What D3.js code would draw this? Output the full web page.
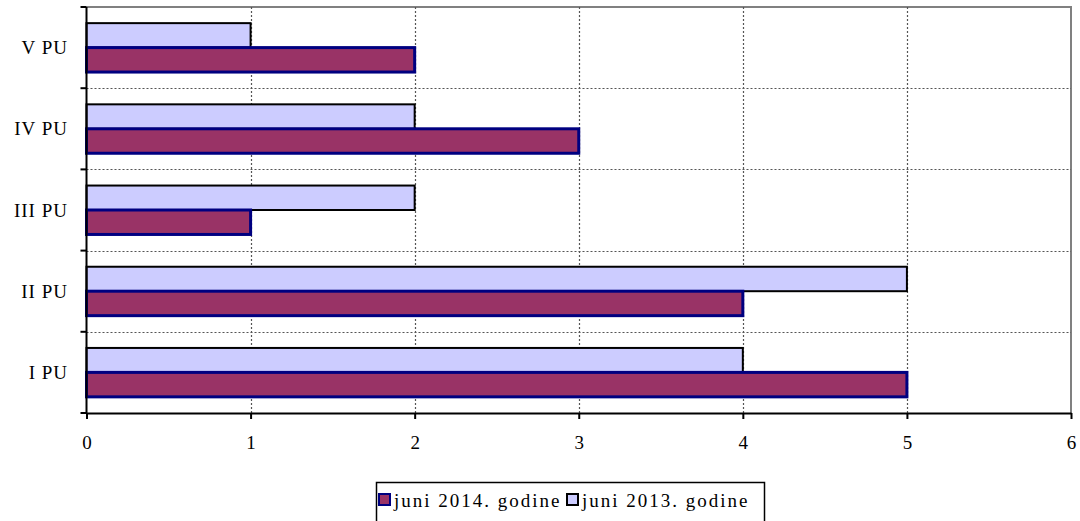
<!DOCTYPE html>
<html>
<head>
<meta charset="utf-8">
<script src="https://cdn.jsdelivr.net/npm/d3@7"></script>
<style>
  body { margin: 0; background: #fff; }
</style>
</head>
<body>
<div id="chart"></div>
<script>
// data
const categories = ["V PU", "IV PU", "III PU", "II PU", "I PU"];
const series = ["juni 2013. godine", "juni 2014. godine"];
const values2013 = [1, 2, 2, 5, 4];
const values2014 = [2, 3, 1, 4, 5];
const xTicks = [0, 1, 2, 3, 4, 5, 6];
const legendOrder = ["juni 2014. godine", "juni 2013. godine"];

const width = 1080, height = 521;
const margin = { top: 7, right: 9, bottom: 108, left: 86.5 };
const serif = '"Liberation Serif"';

const colors = {
  "juni 2013. godine": { fill: "#ccccff", stroke: "#000", sw: 2 },
  "juni 2014. godine": { fill: "#993366", stroke: "#000080", sw: 3 }
};

const svg = d3.select("#chart").append("svg")
  .attr("width", width)
  .attr("height", height);

const x = d3.scaleLinear()
  .domain([0, 6])
  .range([margin.left, width - margin.right]);

const y = d3.scaleBand()
  .domain(categories)
  .range([margin.top, height - margin.bottom]);

const inner = d3.scaleBand()
  .domain(series)
  .range([0, y.bandwidth()])
  .paddingOuter(0.66);

// plot frame (top + right in gray)
svg.append("path")
  .attr("d", `M${x(0)},${margin.top}H${x(6)}V${height - margin.bottom}`)
  .attr("fill", "none")
  .attr("stroke", "#808080")
  .attr("stroke-width", 2);

// grid
const grid = svg.append("g")
  .attr("stroke", "#555")
  .attr("stroke-width", 1.2)
  .attr("stroke-dasharray", "2,2");

grid.selectAll("line.v")
  .data(xTicks.slice(1, -1))
  .join("line")
  .attr("class", "v")
  .attr("x1", d => Math.round(x(d)) + 0.5)
  .attr("x2", d => Math.round(x(d)) + 0.5)
  .attr("y1", margin.top)
  .attr("y2", height - margin.bottom);

grid.selectAll("line.h")
  .data(categories.slice(1))
  .join("line")
  .attr("class", "h")
  .attr("x1", x(0))
  .attr("x2", x(6))
  .attr("y1", d => Math.round(y(d)) + 0.5)
  .attr("y2", d => Math.round(y(d)) + 0.5);

// bars
const rows = categories.map((c, i) => ({
  cat: c,
  "juni 2013. godine": values2013[i],
  "juni 2014. godine": values2014[i]
}));

series.forEach(s => {
  svg.append("g")
    .selectAll("rect")
    .data(rows)
    .join("rect")
    .attr("x", x(0))
    .attr("y", d => y(d.cat) + inner(s))
    .attr("width", d => x(d[s]) - x(0))
    .attr("height", inner.bandwidth())
    .attr("fill", colors[s].fill)
    .attr("stroke", colors[s].stroke)
    .attr("stroke-width", colors[s].sw);
});

// x axis
svg.append("g")
  .attr("transform", `translate(0,${height - margin.bottom})`)
  .call(d3.axisBottom(x).tickValues(xTicks).tickFormat(d3.format("d"))
    .tickSize(6).tickSizeOuter(0).tickPadding(17))
  .call(g => g.selectAll("line, path").attr("stroke", "#000").attr("stroke-width", 2))
  .call(g => g.selectAll("text")
    .style("font-family", serif)
    .style("font-size", "19px")
    .attr("fill", "#000"));

// y axis: ticks at the band edges
const yEdges = categories.map(c => y(c)).concat([height - margin.bottom]);
const yAxis = svg.append("g");
yAxis.append("line")
  .attr("x1", x(0)).attr("x2", x(0))
  .attr("y1", margin.top).attr("y2", height - margin.bottom)
  .attr("stroke", "#000").attr("stroke-width", 2);
yAxis.selectAll("line.tick")
  .data(yEdges)
  .join("line")
  .attr("class", "tick")
  .attr("x1", x(0) - 6).attr("x2", x(0))
  .attr("y1", d => d).attr("y2", d => d)
  .attr("stroke", "#000").attr("stroke-width", 2);
yAxis.selectAll("text")
  .data(categories)
  .join("text")
  .attr("x", 68)
  .attr("y", d => y(d) + y.bandwidth() / 2)
  .attr("dy", "0.35em")
  .attr("text-anchor", "end")
  .style("font-family", serif)
  .style("font-size", "19px")
  .attr("letter-spacing", 1)
  .text(d => d);

// legend
const legend = svg.append("g").attr("transform", "translate(376,482)");
legend.append("rect")
  .attr("x", 0.5).attr("y", 0.5)
  .attr("width", 388).attr("height", 45)
  .attr("fill", "#fff")
  .attr("stroke", "#000")
  .attr("stroke-width", 1.5);

const itemX = [3, 191];
legendOrder.forEach((s, i) => {
  const item = legend.append("g").attr("transform", `translate(${itemX[i]},0)`);
  item.append("rect")
    .attr("x", 0).attr("y", 12)
    .attr("width", 11).attr("height", 11)
    .attr("fill", colors[s].fill)
    .attr("stroke", colors[s].stroke)
    .attr("stroke-width", 2);
  item.append("text")
    .attr("x", 15)
    .attr("y", 25)
    .style("font-family", serif)
    .style("font-size", "19px")
    .attr("letter-spacing", 2)
    .text(s);
});
</script>
</body>
</html>
